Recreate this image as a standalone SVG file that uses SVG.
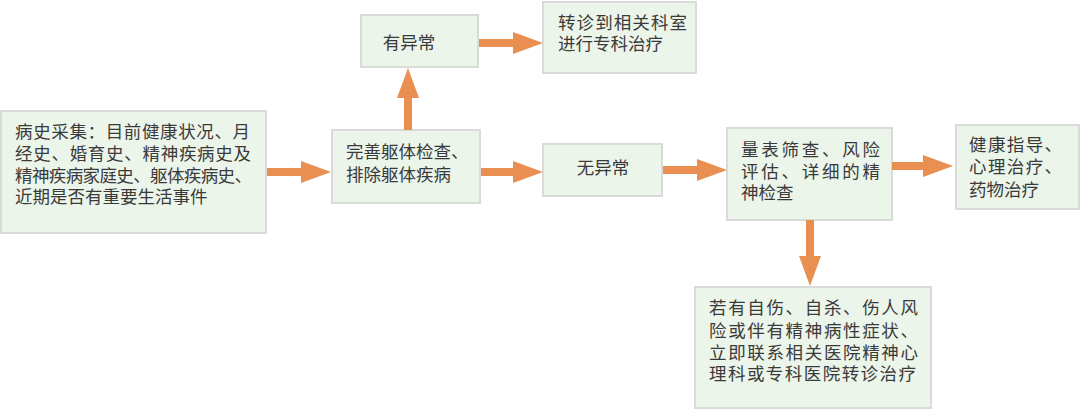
<svg xmlns="http://www.w3.org/2000/svg" width="1080" height="410" viewBox="0 0 1080 410">
<style>
.box{fill:#ecf5ea;stroke:#d9dbd9;stroke-width:2}
.t{font-family:"Liberation Sans","Noto Sans CJK SC",sans-serif;font-size:17.5px;fill:#3a3a3a;dominant-baseline:central}
.c{text-anchor:middle}
.arr{stroke:#e98f52;stroke-width:8;fill:none}
</style>
<defs>
<marker id="ah" markerUnits="userSpaceOnUse" markerWidth="30" markerHeight="22" viewBox="0 0 30 22" refX="0" refY="11" orient="auto">
<polygon points="0,0 30,11 0,22" fill="#e98f52"/>
</marker>
</defs>
<rect width="1080" height="410" fill="#ffffff"/>
<g id="history">
<rect class="box" x="1" y="111" width="265" height="122"/>
<text class="t" x="15" y="132" textLength="235" lengthAdjust="spacing">病史采集：目前健康状况、月</text>
<text class="t" x="15" y="154" textLength="236" lengthAdjust="spacing">经史、婚育史、精神疾病史及</text>
<text class="t" x="15" y="176" textLength="237" lengthAdjust="spacing">精神疾病家庭史、躯体疾病史、</text>
<text class="t" x="15" y="197">近期是否有重要生活事件</text>
</g>
<g id="physical">
<rect class="box" x="332" y="130" width="148" height="73"/>
<text class="t" x="346" y="152">完善躯体检查、</text>
<text class="t" x="346" y="175">排除躯体疾病</text>
</g>
<g id="abnormal">
<rect class="box" x="361" y="15" width="117" height="52"/>
<text class="t c" x="409" y="43">有异常</text>
</g>
<g id="referral">
<rect class="box" x="543" y="2" width="153" height="71"/>
<text class="t" x="558" y="23" textLength="129" lengthAdjust="spacing">转诊到相关科室</text>
<text class="t" x="558" y="44">进行专科治疗</text>
</g>
<g id="normal">
<rect class="box" x="543" y="144" width="119" height="52"/>
<text class="t c" x="603" y="168">无异常</text>
</g>
<g id="screening">
<rect class="box" x="727" y="128" width="165" height="92"/>
<text class="t" x="741" y="150" textLength="139" lengthAdjust="spacing">量表筛查、风险</text>
<text class="t" x="741" y="172" textLength="139" lengthAdjust="spacing">评估、详细的精</text>
<text class="t" x="741" y="193">神检查</text>
</g>
<g id="guidance">
<rect class="box" x="956" y="125" width="123" height="84"/>
<text class="t" x="969" y="145" textLength="93" lengthAdjust="spacing">健康指导、</text>
<text class="t" x="969" y="167" textLength="93" lengthAdjust="spacing">心理治疗、</text>
<text class="t" x="969" y="190">药物治疗</text>
</g>
<g id="risk">
<rect class="box" x="695" y="287" width="236" height="121"/>
<text class="t" x="709" y="308" textLength="209" lengthAdjust="spacing">若有自伤、自杀、伤人风</text>
<text class="t" x="709" y="331" textLength="209" lengthAdjust="spacing">险或伴有精神病性症状、</text>
<text class="t" x="709" y="353" textLength="209" lengthAdjust="spacing">立即联系相关医院精神心</text>
<text class="t" x="709" y="374" textLength="207" lengthAdjust="spacing">理科或专科医院转诊治疗</text>
</g>
<g id="connectors">
<line class="arr" x1="267" y1="172" x2="301" y2="172" marker-end="url(#ah)"/>
<line class="arr" x1="479" y1="43" x2="513" y2="43" marker-end="url(#ah)"/>
<line class="arr" x1="408" y1="130" x2="408" y2="98" marker-end="url(#ah)"/>
<line class="arr" x1="481" y1="172" x2="513" y2="172" marker-end="url(#ah)"/>
<line class="arr" x1="663" y1="170" x2="697" y2="170" marker-end="url(#ah)"/>
<line class="arr" x1="892" y1="166" x2="923" y2="166" marker-end="url(#ah)"/>
<line class="arr" x1="810" y1="220" x2="810" y2="256" marker-end="url(#ah)"/>
</g>
</svg>
